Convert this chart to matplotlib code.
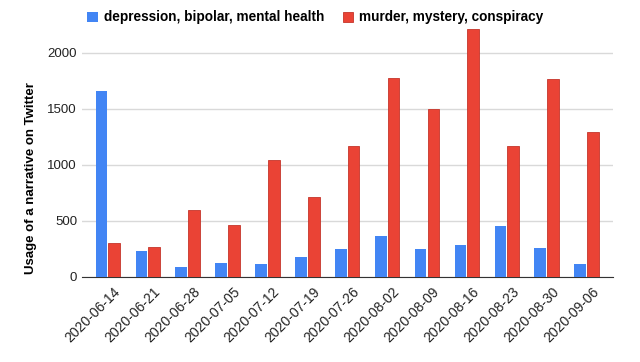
import matplotlib.pyplot as plt
import matplotlib.transforms as mtransforms
import numpy as np

plt.rcParams['font.family'] = ['Liberation Sans', 'DejaVu Sans']

weeks = ['2020-06-14', '2020-06-21', '2020-06-28', '2020-07-05', '2020-07-12',
         '2020-07-19', '2020-07-26', '2020-08-02', '2020-08-09', '2020-08-16',
         '2020-08-23', '2020-08-30', '2020-09-06']
mental = [1660, 229, 84, 120, 113, 176, 245, 366, 250, 280, 450, 259, 111]
murder = [298, 265, 595, 461, 1039, 714, 1167, 1774, 1497, 2212, 1164, 1765, 1295]

blue = '#4285F4'
red = '#EA4335'

fig = plt.figure(figsize=(6.4, 3.62), dpi=100)
ax = fig.add_axes([0.128, 0.2356, 0.830, 0.6964])

x = np.arange(len(weeks))
w = 0.294
ax.bar(x - w / 2 - 0.013, mental, w, color=blue, label='depression, bipolar, mental health', zorder=3)
ax.bar(x + w / 2 + 0.013, murder, w, color=red, edgecolor='#c5352a', linewidth=0.6,
       label='murder, mystery, conspiracy', zorder=3)

ax.set_xlim(-0.653, len(weeks) - 1 + 0.667)
ax.set_ylim(0, 2250)
ax.set_yticks([0, 500, 1000, 1500, 2000])
ax.yaxis.grid(True, color='#d9d9d9', linewidth=1, zorder=0)
ax.tick_params(length=0, labelsize=9.5, colors='#222222')
ax.set_xticks(x)
ax.set_xticklabels(weeks, rotation=45, ha='right', rotation_mode='anchor', fontsize=10)
ax.tick_params(axis='x', pad=6)
shift = mtransforms.ScaledTranslation(5 / 100, 0, fig.dpi_scale_trans)
for lbl in ax.get_xticklabels():
    lbl.set_transform(lbl.get_transform() + shift)
for s in ['top', 'right', 'left']:
    ax.spines[s].set_visible(False)
ax.spines['bottom'].set_color('#333333')

ax.set_ylabel('Usage of a narrative on Twitter', fontsize=9.5, fontweight='bold')
ax.yaxis.set_label_coords(-0.085, 0.392)

fig.legend(loc='upper center', bbox_to_anchor=(0.493, 1.005), ncol=2, frameon=False,
           handlelength=0.75, handleheight=0.75, handletextpad=0.45, columnspacing=1.4,
           prop={'size': 9.8, 'weight': 'bold'})

fig.savefig('out.png', dpi=100)
